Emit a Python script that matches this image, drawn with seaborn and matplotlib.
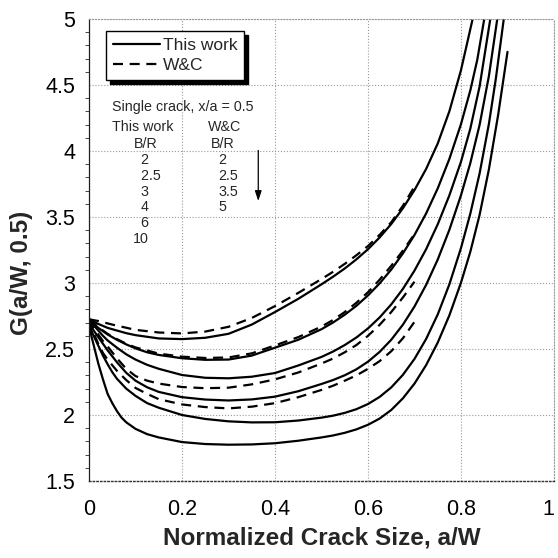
import matplotlib
matplotlib.use("Agg")
import matplotlib.pyplot as plt
from matplotlib.lines import Line2D
import pandas as pd
import seaborn as sns

# This work, single crack, x/a = 0.5
br_this_work = ["2", "2.5", "3", "4", "6", "10"]

x_tw_2 = [0, 0.02, 0.04, 0.06, 0.08, 0.1, 0.15, 0.2, 0.25, 0.3, 0.35, 0.4, 0.45, 0.5, 0.525,
          0.55, 0.575, 0.6, 0.625, 0.65, 0.675, 0.7, 0.725, 0.75, 0.775, 0.8, 0.825]
g_tw_2 = [2.725, 2.69, 2.66, 2.64, 2.62, 2.605, 2.58, 2.575, 2.585, 2.615, 2.685, 2.78, 2.88, 2.99, 3.048,
          3.11, 3.179, 3.256, 3.345, 3.447, 3.566, 3.704, 3.864, 4.057, 4.301, 4.613, 5.0]

x_tw_25 = [0, 0.01, 0.02, 0.04, 0.06, 0.08, 0.1, 0.125, 0.15, 0.2, 0.25, 0.3, 0.35, 0.4, 0.45,
           0.5, 0.525, 0.55, 0.575, 0.6, 0.625, 0.65, 0.675, 0.7, 0.725, 0.75, 0.775, 0.8, 0.82,
           0.835, 0.85]
g_tw_25 = [2.725, 2.69, 2.66, 2.61, 2.57, 2.535, 2.505, 2.475, 2.455, 2.43, 2.418, 2.42, 2.45, 2.51, 2.57,
           2.65, 2.701, 2.76, 2.827, 2.906, 2.997, 3.102, 3.224, 3.364, 3.527, 3.717, 3.94, 4.204, 4.459,
           4.691, 5.0]

x_tw_3 = [0, 0.01, 0.02, 0.03, 0.04, 0.06, 0.08, 0.1, 0.125, 0.15, 0.2, 0.25, 0.3, 0.35, 0.4,
          0.45, 0.5, 0.525, 0.55, 0.575, 0.6, 0.625, 0.65, 0.675, 0.7, 0.725, 0.75, 0.775, 0.8,
          0.82, 0.84, 0.863]
g_tw_3 = [2.725, 2.68, 2.64, 2.60, 2.565, 2.51, 2.46, 2.42, 2.38, 2.35, 2.303, 2.282, 2.278, 2.29, 2.318,
          2.375, 2.44, 2.481, 2.53, 2.587, 2.656, 2.739, 2.838, 2.955, 3.094, 3.256, 3.445, 3.664, 3.919,
          4.169, 4.489, 5.0]

x_tw_4 = [0, 0.005, 0.01, 0.02, 0.03, 0.04, 0.06, 0.08, 0.1, 0.125, 0.15, 0.2, 0.25, 0.3, 0.35,
          0.4, 0.45, 0.5, 0.525, 0.55, 0.575, 0.6, 0.625, 0.65, 0.675, 0.7, 0.725, 0.75, 0.775,
          0.8, 0.82, 0.84, 0.86, 0.878]
g_tw_4 = [2.725, 2.67, 2.64, 2.59, 2.54, 2.49, 2.40, 2.32, 2.26, 2.21, 2.175, 2.135, 2.117, 2.11, 2.118,
          2.139, 2.18, 2.235, 2.265, 2.301, 2.346, 2.404, 2.478, 2.57, 2.684, 2.822, 2.986, 3.178, 3.403,
          3.665, 3.908, 4.198, 4.568, 5.0]

x_tw_6 = [0, 0.005, 0.01, 0.02, 0.03, 0.04, 0.05, 0.06, 0.08, 0.1, 0.125, 0.15, 0.2, 0.25, 0.3,
          0.35, 0.4, 0.45, 0.5, 0.525, 0.55, 0.575, 0.6, 0.625, 0.65, 0.675, 0.7, 0.725, 0.75,
          0.775, 0.8, 0.82, 0.84, 0.86, 0.875, 0.892]
g_tw_6 = [2.725, 2.64, 2.60, 2.525, 2.45, 2.385, 2.325, 2.275, 2.20, 2.145, 2.09, 2.055, 2.0, 1.97, 1.952,
          1.944, 1.945, 1.958, 1.98, 1.995, 2.016, 2.044, 2.083, 2.137, 2.209, 2.304, 2.425, 2.576, 2.762,
          2.99, 3.265, 3.525, 3.83, 4.205, 4.55, 5.0]

x_tw_10 = [0, 0.005, 0.01, 0.02, 0.03, 0.04, 0.05, 0.06, 0.07, 0.08, 0.1, 0.125, 0.15, 0.2, 0.25, 0.3,
           0.35, 0.4, 0.45, 0.5, 0.525, 0.55, 0.575, 0.6, 0.625, 0.65, 0.675, 0.7, 0.725, 0.75,
           0.775, 0.8, 0.82, 0.84, 0.86, 0.88, 0.9]
g_tw_10 = [2.725, 2.60, 2.53, 2.39, 2.27, 2.16, 2.09, 2.03, 1.98, 1.945, 1.895, 1.855, 1.83, 1.795, 1.78, 1.775,
           1.777, 1.786, 1.805, 1.83, 1.845, 1.865, 1.891, 1.926, 1.973, 2.038, 2.126, 2.238, 2.378, 2.549,
           2.755, 3.003, 3.236, 3.516, 3.861, 4.276, 4.751]

# W&C
br_wc = ["2", "2.5", "3.5", "5"]

x_wc_2 = [0, 0.02, 0.05, 0.1, 0.15, 0.2, 0.25, 0.3, 0.35, 0.4, 0.45, 0.5, 0.525, 0.55, 0.575, 0.6,
          0.625, 0.65, 0.675, 0.7]
g_wc_2 = [2.725, 2.712, 2.685, 2.645, 2.625, 2.618, 2.632, 2.668, 2.735, 2.825, 2.925, 3.03, 3.085, 3.145,
          3.21, 3.28, 3.365, 3.46, 3.585, 3.73]

x_wc_25 = [0, 0.01, 0.02, 0.04, 0.06, 0.08, 0.1, 0.15, 0.2, 0.25, 0.3, 0.35, 0.4, 0.45, 0.5, 0.525,
           0.55, 0.575, 0.6, 0.625, 0.65, 0.675, 0.7]
g_wc_25 = [2.725, 2.695, 2.665, 2.615, 2.575, 2.54, 2.512, 2.465, 2.442, 2.432, 2.436, 2.467, 2.527, 2.59, 2.67,
           2.72, 2.78, 2.85, 2.93, 3.025, 3.13, 3.245, 3.37]

x_wc_35 = [0, 0.01, 0.02, 0.03, 0.04, 0.06, 0.08, 0.1, 0.125, 0.15, 0.2, 0.25, 0.3, 0.35, 0.4, 0.45, 0.5,
           0.525, 0.55, 0.575, 0.6, 0.625, 0.65, 0.675, 0.7]
g_wc_35 = [2.725, 2.665, 2.61, 2.56, 2.52, 2.43, 2.35, 2.295, 2.26, 2.238, 2.212, 2.203, 2.207, 2.232, 2.27,
           2.322, 2.39, 2.428, 2.475, 2.53, 2.60, 2.683, 2.78, 2.89, 3.01]

x_wc_5 = [0, 0.01, 0.02, 0.03, 0.04, 0.06, 0.08, 0.1, 0.125, 0.15, 0.2, 0.25, 0.3, 0.35, 0.4, 0.45, 0.5,
          0.525, 0.55, 0.575, 0.6, 0.625, 0.65, 0.675, 0.7]
g_wc_5 = [2.725, 2.62, 2.54, 2.47, 2.42, 2.335, 2.265, 2.205, 2.16, 2.12, 2.08, 2.06, 2.05, 2.063, 2.09,
          2.135, 2.19, 2.222, 2.26, 2.30, 2.35, 2.408, 2.483, 2.581, 2.706]

x_ticks = [0, 0.2, 0.4, 0.6, 0.8, 1.0]
x_tick_labels = ["0", "0.2", "0.4", "0.6", "0.8", "1"]
y_ticks = [1.5, 2, 2.5, 3, 3.5, 4, 4.5, 5]
y_tick_labels = ["1.5", "2", "2.5", "3", "3.5", "4", "4.5", "5"]


def curves_frame(names, xs, gs):
    rows = []
    for name, x, g in zip(names, xs, gs):
        for xi, gi in zip(x, g):
            rows.append((name, xi, gi))
    return pd.DataFrame(rows, columns=["BR", "aW", "G"])


tw_df = curves_frame(br_this_work,
                     [x_tw_2, x_tw_25, x_tw_3, x_tw_4, x_tw_6, x_tw_10],
                     [g_tw_2, g_tw_25, g_tw_3, g_tw_4, g_tw_6, g_tw_10])
wc_df = curves_frame(br_wc,
                     [x_wc_2, x_wc_25, x_wc_35, x_wc_5],
                     [g_wc_2, g_wc_25, g_wc_35, g_wc_5])

sns.set_style("white")
plt.rcParams["font.family"] = ["Liberation Sans", "DejaVu Sans"]

fig = plt.figure(figsize=(5.58, 5.58), dpi=100)
ax = fig.add_axes([89 / 558, 77 / 558, 465 / 558, 462 / 558])

for name in br_this_work:
    sub = tw_df[tw_df["BR"] == name]
    sns.lineplot(data=sub, x="aW", y="G", color="black", linewidth=1.6,
                 estimator=None, sort=False, ax=ax, legend=False)
for name in br_wc:
    sub = wc_df[wc_df["BR"] == name]
    sns.lineplot(data=sub, x="aW", y="G", color="black", linewidth=1.6,
                 linestyle=(0, (4.5, 3)), estimator=None, sort=False, ax=ax, legend=False)

ax.set_xlim(0, 1)
ax.set_ylim(1.5, 5)
ax.set_xticks(x_ticks)
ax.set_xticklabels(x_tick_labels)
ax.set_yticks(y_ticks)
ax.set_yticklabels(y_tick_labels)
ax.set_yticks([v / 10 for v in range(15, 51)], minor=True)
ax.tick_params(axis="both", which="major", labelsize=15.5, colors="black")
ax.tick_params(axis="x", length=0, pad=13)
ax.tick_params(axis="y", which="major", length=4, width=0.8, direction="out", pad=6)
ax.tick_params(axis="y", which="minor", length=3, width=0.6, direction="out", left=True)
ax.grid(True, which="major", color="#9a9a9a", linestyle=":", linewidth=0.8)
# keep the last x label inside the picture
ax.get_xticklabels()[-1].set_horizontalalignment("right")

ax.set_xlabel("Normalized Crack Size, a/W", fontsize=17.5, fontweight="bold", labelpad=5)
ax.set_ylabel("G(a/W, 0.5)", fontsize=17.5, fontweight="bold")
ax.yaxis.set_label_coords(-0.12, 0.45)

ax.spines["left"].set_color("#202020")
ax.spines["left"].set_linewidth(0.9)
ax.spines["bottom"].set_color("#303030")
ax.spines["bottom"].set_linestyle(":")
ax.spines["bottom"].set_linewidth(1.0)
for side in ["top", "right"]:
    ax.spines[side].set_color("#9a9a9a")
    ax.spines[side].set_linestyle(":")
    ax.spines[side].set_linewidth(0.8)

handles = [Line2D([], [], color="black", linewidth=1.6),
           Line2D([], [], color="black", linewidth=1.6, linestyle=(0, (4.5, 3)))]
leg = ax.legend(handles, ["This work", "W&C"], loc="upper left",
                bbox_to_anchor=(0.037, 0.975), fontsize=12.5, frameon=True, fancybox=False,
                shadow={"color": "black", "alpha": 1.0, "ox": 3, "oy": -3},
                framealpha=1, edgecolor="black", handlelength=2.7, handletextpad=0.15,
                borderpad=0.4, labelspacing=0.3, borderaxespad=0)
leg.get_frame().set_linewidth(1.0)

# annotation block
ax.text(0.049, 4.333, "Single crack, x/a = 0.5", fontsize=10.3, va="center", ha="left")
ax.text(0.049, 4.18, "This work", fontsize=10.3, va="center", ha="left")
ax.text(0.256, 4.18, "W&C", fontsize=10.3, va="center", ha="left")
ax.text(0.121, 4.053, "B/R", fontsize=10.3, va="center", ha="center")
ax.text(0.288, 4.053, "B/R", fontsize=10.3, va="center", ha="center")
ax.text(0.094, 3.985, "\n".join(("  " + b) if len(b) < 2 or "." in b else b for b in br_this_work),
        fontsize=10.3, va="top", ha="left", linespacing=1.16)
ax.text(0.278, 3.985, "\n".join(br_wc), fontsize=10.3, va="top", ha="left", linespacing=1.16)
ax.annotate("", xy=(0.364, 3.6), xytext=(0.364, 4.025),
            arrowprops=dict(arrowstyle="-|>,head_length=0.6,head_width=0.2", color="black", lw=0.9))

fig.savefig("out.png", dpi=100)
